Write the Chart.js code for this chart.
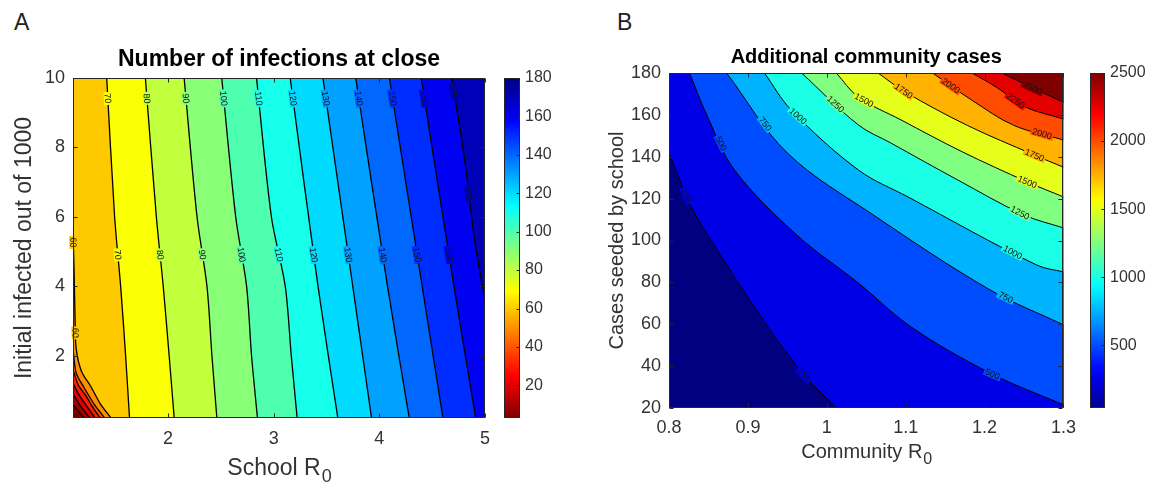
<!DOCTYPE html>
<html>
<head>
<meta charset="utf-8">
<script src="https://cdn.jsdelivr.net/npm/chart.js@4.4.0/dist/chart.umd.min.js"></script>
<style>
html, body { margin: 0; padding: 0; background: #fff; }
body { width: 1165px; height: 486px; position: relative; overflow: hidden; font-family: "Liberation Sans", Arial, sans-serif; }
.box { position: absolute; top: 0; }
.panel { position: absolute; font-size: 23px; color: #222; line-height: 1; }
</style>
</head>
<body>
<div class="panel" style="left:14px;top:11px">A</div>
<div class="panel" style="left:617px;top:11px">B</div>
<div class="box" style="left:0"><canvas id="chartA" width="500" height="486"></canvas></div>
<div class="box" style="left:495px"><canvas id="barA" width="80" height="486"></canvas></div>
<div class="box" style="left:590px"><canvas id="chartB" width="495" height="486"></canvas></div>
<div class="box" style="left:1080px"><canvas id="barB" width="85" height="486"></canvas></div>
<script>
const FONT = '"Liberation Sans", Arial, sans-serif';
const INK = '#262626';
const TICK = '#333';

// panel A - number of infections at close (school R0 vs initial infected)
const rangeAX = [1.1, 5];
const rangeAY = [0.2, 10];
const ticksAX = [2, 3, 4, 5];
const ticksAY = [2, 4, 6, 8, 10];
const rangeBarA = [3, 180];
const ticksBarA = [20, 40, 60, 80, 100, 120, 140, 160, 180];
const levelsA = [10, 20, 30, 40, 50, 60, 70, 80, 90, 100, 110, 120, 130, 140, 150, 160, 170];
// contour lines, [school R0, initial infected]
const a10 = [[1.1, 0.6], [1.15, 0.4], [1.21, 0.2]];
const a20 = [[1.1, 0.9], [1.17, 0.55], [1.26, 0.2]];
const a30 = [[1.1, 1.2], [1.16, 0.85], [1.24, 0.5], [1.31, 0.2]];
const a40 = [[1.1, 1.6], [1.15, 1.15], [1.22, 0.85], [1.3, 0.45], [1.36, 0.2]];
const a50 = [[1.1, 2.2], [1.13, 1.5], [1.2, 1.1], [1.3, 0.6], [1.4, 0.2]];
const a60 = [[1.1, 5.6], [1.11, 4.5], [1.12, 3.0], [1.13, 2.2], [1.18, 1.55], [1.27, 1.1], [1.36, 0.6], [1.46, 0.2]];
const a70 = [[1.419, 10], [1.494, 6], [1.551, 4], [1.598, 2], [1.635, 0.2]];
const a80 = [[1.785, 10], [1.889, 6], [1.954, 4], [2.01, 2], [2.058, 0.2]];
const a90 = [[2.152, 10], [2.274, 6], [2.368, 4], [2.415, 2], [2.462, 0.2]];
const a100 = [[2.508, 10], [2.64, 6], [2.743, 4], [2.79, 2], [2.846, 0.2]];
const a110 = [[2.837, 10], [2.978, 6], [3.109, 4], [3.166, 2], [3.222, 0.2]];
const a120 = [[3.156, 10], [3.419, 4], [3.607, 0.2]];
const a130 = [[3.466, 10], [3.748, 4], [3.926, 0.2]];
const a140 = [[3.776, 10], [4.077, 4], [4.283, 0.2]];
const a150 = [[4.095, 10], [4.405, 4], [4.602, 0.2]];
const a160 = [[4.396, 10], [4.706, 4], [4.912, 0.2]];
const a170 = [[4.687, 10], [4.809, 7.6], [4.903, 5.3], [5, 3.6]];
const linesA = [a10, a20, a30, a40, a50, a60, a70, a80, a90, a100, a110, a120, a130, a140, a150, a160, a170];

// panel B - additional community cases (community R0 vs cases seeded)
const rangeBX = [0.8, 1.3];
const rangeBY = [20, 180];
const ticksBX = [0.8, 0.9, 1, 1.1, 1.2, 1.3];
const ticksBY = [20, 40, 60, 80, 100, 120, 140, 160, 180];
const rangeBarB = [40, 2500];
const ticksBarB = [500, 1000, 1500, 2000, 2500];
const levelsB = [250, 500, 750, 1000, 1250, 1500, 1750, 2000, 2250, 2500];
const b250 = [[0.8, 141.8], [0.826, 117.9], [0.849, 102.6], [0.921, 61.1], [0.971, 35.8], [1.012, 20]];
const b500 = [[0.826, 180], [0.849, 159], [0.883, 133.7], [0.962, 102.6], [1.04, 79.7], [1.107, 58.7], [1.207, 36.7], [1.3, 21.5]];
const b750 = [[0.873, 180], [0.95, 141.8], [1.059, 112.2], [1.207, 76.4], [1.3, 59.7]];
const b1000 = [[0.921, 180], [0.955, 162.3], [1.04, 133.7], [1.103, 120.8], [1.266, 88.3], [1.3, 85]];
const b1250 = [[0.968, 180], [1.04, 155.2], [1.081, 146.6], [1.166, 128.9], [1.25, 112.2], [1.3, 106]];
const b1500 = [[1.012, 180], [1.04, 168.5], [1.094, 157.6], [1.172, 142.3], [1.254, 128], [1.3, 120.8]];
const b1750 = [[1.065, 180], [1.099, 171], [1.178, 155], [1.262, 141], [1.3, 135]];
const b2000 = [[1.134, 180], [1.184, 167], [1.237, 155], [1.3, 148]];
const b2250 = [[1.184, 180], [1.216, 173], [1.25, 164], [1.3, 158]];
const b2500 = [[1.222, 180], [1.26, 173], [1.3, 166]];
const linesB = [b250, b500, b750, b1000, b1250, b1500, b1750, b2000, b2250, b2500];

function jet(t) {
  const c = v => Math.round(255 * Math.min(1, Math.max(0, v)));
  return 'rgb(' + c(1.5 - Math.abs(4 * t - 3)) + ',' + c(1.5 - Math.abs(4 * t - 2)) + ',' + c(1.5 - Math.abs(4 * t - 1)) + ')';
}
const colorA = v => jet(1 - (v - 3) / 177);   // reversed jet
const colorB = v => jet(v / 2500);

// where a boundary point sits on the frame, counter-clockwise from bottom-left
function perimeterPos(p, xr, yr) {
  const [x, y] = p, eps = 1e-6;
  if (Math.abs(y - yr[0]) < eps) return (x - xr[0]) / (xr[1] - xr[0]);
  if (Math.abs(x - xr[1]) < eps) return 1 + (y - yr[0]) / (yr[1] - yr[0]);
  if (Math.abs(y - yr[1]) < eps) return 2 + (xr[1] - x) / (xr[1] - xr[0]);
  return 3 + (yr[1] - y) / (yr[1] - yr[0]);
}

// close a contour line around its higher-valued side; the closing points sit outside
// the axes so the clipped fill edge follows the same curve as the drawn line
function regionAbove(line, xr, yr) {
  const mx = (xr[1] - xr[0]) * 0.25, my = (yr[1] - yr[0]) * 0.25;
  const corners = [[xr[0] - mx, yr[0] - my], [xr[1] + mx, yr[0] - my], [xr[1] + mx, yr[1] + my], [xr[0] - mx, yr[1] + my]];
  const n = line.length;
  const sEnd = perimeterPos(line[n - 1], xr, yr);
  let sStart = perimeterPos(line[0], xr, yr);
  if (sStart <= sEnd) sStart += 4;
  const beyond = (p, q) => [2 * p[0] - q[0], 2 * p[1] - q[1]];
  const pts = line.concat([beyond(line[n - 1], line[n - 2])]);
  for (let k = Math.floor(sEnd) + 1; k < sStart; k++) pts.push(corners[k % 4]);
  pts.push(beyond(line[0], line[1]));
  return pts;
}

function contourSets(levels, lines, xr, yr, colorFn, lineWidth, labelAt, minLabel, tension) {
  const fills = levels.map((lv, i) => ({
    data: regionAbove(lines[i], xr, yr).map(([x, y]) => ({x, y})),
    fill: 'shape',
    tension: tension,
    backgroundColor: colorFn(lv),
    borderColor: 'rgba(0,0,0,0)',
    borderWidth: 1,
    pointRadius: 0,
    order: 100 + levels.length - i
  }));
  const strokes = levels.map((lv, i) => ({
    data: lines[i].map(([x, y]) => ({x, y})),
    fill: false,
    tension: tension,
    borderColor: '#000',
    borderWidth: lineWidth,
    pointRadius: 0,
    order: 0,
    contourLevel: lv,
    labelAt: lv >= minLabel ? labelAt : [],
    labelBg: colorFn(lv)
  }));
  return fills.concat(strokes);
}

const areaPlugin = {
  id: 'areaFill',
  beforeDatasetsDraw(chart, args, opts) {
    const {ctx, chartArea: a} = chart;
    ctx.save();
    ctx.fillStyle = opts.color;
    ctx.fillRect(a.left, a.top, a.width, a.height);
    ctx.restore();
  }
};

const labelPlugin = {
  id: 'contourLabels',
  afterDatasetsDraw(chart, args, opts) {
    const ctx = chart.ctx;
    ctx.save();
    ctx.font = opts.size + 'px ' + FONT;
    ctx.textAlign = 'center';
    ctx.textBaseline = 'middle';
    chart.data.datasets.forEach((ds, i) => {
      if (!ds.labelAt || !ds.labelAt.length) return;
      const pts = chart.getDatasetMeta(i).data;
      const seg = [];
      let total = 0;
      for (let k = 1; k < pts.length; k++) {
        const d = Math.hypot(pts[k].x - pts[k - 1].x, pts[k].y - pts[k - 1].y);
        seg.push(d);
        total += d;
      }
      // short lines only get one label, in the middle
      const at = total < 130 ? [0.5] : ds.labelAt;
      at.forEach(f => {
        let rest = f * total, k = 0;
        while (k < seg.length - 1 && rest > seg[k]) { rest -= seg[k]; k++; }
        const p0 = pts[k], p1 = pts[k + 1];
        const r = seg[k] ? rest / seg[k] : 0;
        let ang = Math.atan2(p1.y - p0.y, p1.x - p0.x);
        if (ang > Math.PI / 2) ang -= Math.PI;
        if (ang < -Math.PI / 2) ang += Math.PI;
        const text = String(ds.contourLevel);
        const w = ctx.measureText(text).width + 3;
        ctx.save();
        ctx.translate(p0.x + (p1.x - p0.x) * r, p0.y + (p1.y - p0.y) * r);
        ctx.rotate(ang);
        ctx.fillStyle = ds.labelBg;
        ctx.fillRect(-w / 2, -opts.size * 0.45, w, opts.size * 0.9);
        ctx.fillStyle = '#111';
        ctx.fillText(text, 0, 0.5);
        ctx.restore();
      });
    });
    ctx.restore();
  }
};

const framePlugin = {
  id: 'frame',
  afterDatasetsDraw(chart, args, opts) {
    const {ctx, chartArea: a, scales} = chart;
    const L = Math.round(a.left) + 0.5, R = Math.round(a.right) - 0.5;
    const T = Math.round(a.top) + 0.5, B = Math.round(a.bottom) - 0.5;
    ctx.save();
    ctx.strokeStyle = INK;
    ctx.lineWidth = 1;
    ctx.strokeRect(L, T, R - L, B - T);
    ctx.beginPath();
    if (opts.xTicks) {
      scales.x.ticks.forEach(t => {
        const px = Math.round(scales.x.getPixelForValue(t.value)) + 0.5;
        ctx.moveTo(px, B); ctx.lineTo(px, B - opts.len);
        ctx.moveTo(px, T); ctx.lineTo(px, T + opts.len);
      });
    }
    scales.y.ticks.forEach(t => {
      const py = Math.round(scales.y.getPixelForValue(t.value)) + 0.5;
      if (opts.leftTicks) { ctx.moveTo(L, py); ctx.lineTo(L + opts.len, py); }
      ctx.moveTo(R, py); ctx.lineTo(R - opts.len, py);
    });
    ctx.stroke();
    ctx.restore();
  }
};

// bold heading centred over the plot, and an x title with a lowered subscript
const headingPlugin = {
  id: 'heading',
  afterDraw(chart, args, opts) {
    const {ctx, chartArea: a} = chart;
    const cx = (a.left + a.right) / 2;
    ctx.save();
    ctx.textAlign = 'center';
    ctx.textBaseline = 'alphabetic';
    ctx.fillStyle = '#000';
    ctx.font = 'bold ' + opts.size + 'px ' + FONT;
    ctx.fillText(opts.text, cx, opts.y);
    const main = opts.xSize + 'px ' + FONT;
    const sub = Math.round(opts.xSize * 0.78) + 'px ' + FONT;
    ctx.font = main;
    const w1 = ctx.measureText(opts.xText).width;
    ctx.font = sub;
    const w2 = ctx.measureText(opts.xSub).width;
    const x0 = cx - (w1 + w2) / 2;
    ctx.textAlign = 'left';
    ctx.fillStyle = TICK;
    ctx.font = main;
    ctx.fillText(opts.xText, x0, opts.xY);
    ctx.font = sub;
    ctx.fillText(opts.xSub, x0 + w1 + 1, opts.xY + opts.xSize * 0.32);
    ctx.restore();
  }
};

const fixTicks = list => scale => { scale.ticks = list.map(v => ({value: v})); };

function contourChart(id, cfg) {
  return new Chart(document.getElementById(id), {
    type: 'line',
    data: {datasets: cfg.datasets},
    options: {
      responsive: false,
      animation: false,
      events: [],
      layout: {padding: {left: 0, right: cfg.padRight, top: cfg.padTop, bottom: 0}},
      plugins: {
        legend: {display: false},
        tooltip: {enabled: false},
        title: {display: false},
        areaFill: {color: cfg.baseColor},
        contourLabels: {size: 9},
        frame: {xTicks: true, leftTicks: true, len: 4},
        heading: cfg.heading
      },
      scales: {
        x: {
          type: 'linear', min: cfg.xr[0], max: cfg.xr[1],
          grid: {display: false, drawTicks: false}, border: {display: false},
          afterBuildTicks: fixTicks(cfg.xTicks),
          afterFit: s => { s.height = cfg.xHeight; },
          ticks: {color: TICK, font: {family: FONT, size: cfg.tickSize}, padding: cfg.xTickPad, maxRotation: 0,
                  callback: v => String(+v.toFixed(2))}
        },
        y: {
          type: 'linear', min: cfg.yr[0], max: cfg.yr[1],
          grid: {display: false, drawTicks: false}, border: {display: false},
          afterBuildTicks: fixTicks(cfg.yTicks),
          afterFit: s => { s.width = cfg.yWidth; },
          ticks: {color: TICK, font: {family: FONT, size: cfg.tickSize}, padding: 8},
          title: {display: true, text: cfg.yTitle, color: TICK, font: {family: FONT, size: cfg.labelSize},
                  padding: {top: cfg.yTitlePad, bottom: 0}}
        }
      }
    },
    plugins: [areaPlugin, labelPlugin, framePlugin, headingPlugin]
  });
}

function barGradient(chart, colorFn, lo, hi) {
  const a = chart.chartArea;
  if (!a) return colorFn(lo);
  const g = chart.ctx.createLinearGradient(0, a.bottom, 0, a.top);
  for (let k = 0; k <= 32; k++) g.addColorStop(k / 32, colorFn(lo + (hi - lo) * k / 32));
  return g;
}

function colorbar(id, range, ticks, colorFn, pad, axisWidth) {
  return new Chart(document.getElementById(id), {
    type: 'bar',
    data: {
      labels: [''],
      datasets: [{
        data: [range],
        backgroundColor: c => barGradient(c.chart, colorFn, range[0], range[1]),
        borderWidth: 0, barPercentage: 1, categoryPercentage: 1
      }]
    },
    options: {
      responsive: false,
      animation: false,
      events: [],
      layout: {padding: pad},
      plugins: {legend: {display: false}, tooltip: {enabled: false}, frame: {xTicks: false, leftTicks: false, len: 3}},
      scales: {
        x: {display: false},
        y: {
          position: 'right', min: range[0], max: range[1],
          grid: {display: false, drawTicks: false}, border: {display: false},
          afterBuildTicks: fixTicks(ticks),
          afterFit: s => { s.width = axisWidth; },
          ticks: {color: TICK, font: {family: FONT, size: 16}, padding: 5, callback: v => String(v)}
        }
      }
    },
    plugins: [framePlugin]
  });
}

contourChart('chartA', {
  datasets: contourSets(levelsA, linesA, rangeAX, rangeAY, colorA, 1.3, [0.06, 0.52], 60, 0.3),
  baseColor: colorA(0),
  heading: {text: 'Number of infections at close', size: 23, y: 66,
            xText: 'School R', xSub: '0', xSize: 23, xY: 475},
  xr: rangeAX, yr: rangeAY, xTicks: ticksAX, yTicks: ticksAY,
  padRight: 12, padTop: 78, xHeight: 68, yWidth: 73,
  tickSize: 18, xTickPad: 10, labelSize: 23,
  yTitle: 'Initial infected out of 1000', yTitlePad: 11
});
colorbar('barA', rangeBarA, ticksBarA, colorA, {left: 9, top: 78, bottom: 68, right: 0}, 55);

contourChart('chartB', {
  datasets: contourSets(levelsB, linesB, rangeBX, rangeBY, colorB, 1, [0.15, 0.85], 0, 0.35),
  baseColor: colorB(0),
  heading: {text: 'Additional community cases', size: 20, y: 63,
            xText: 'Community R', xSub: '0', xSize: 20, xY: 458},
  xr: rangeBX, yr: rangeBY, xTicks: ticksBX, yTicks: ticksBY,
  padRight: 18, padTop: 73, xHeight: 78, yWidth: 79,
  tickSize: 18, xTickPad: 9, labelSize: 20,
  yTitle: 'Cases seeded by school', yTitlePad: 15
});
colorbar('barB', rangeBarB, ticksBarB, colorB, {left: 10, top: 73, bottom: 78, right: 0}, 60);
</script>
</body>
</html>
